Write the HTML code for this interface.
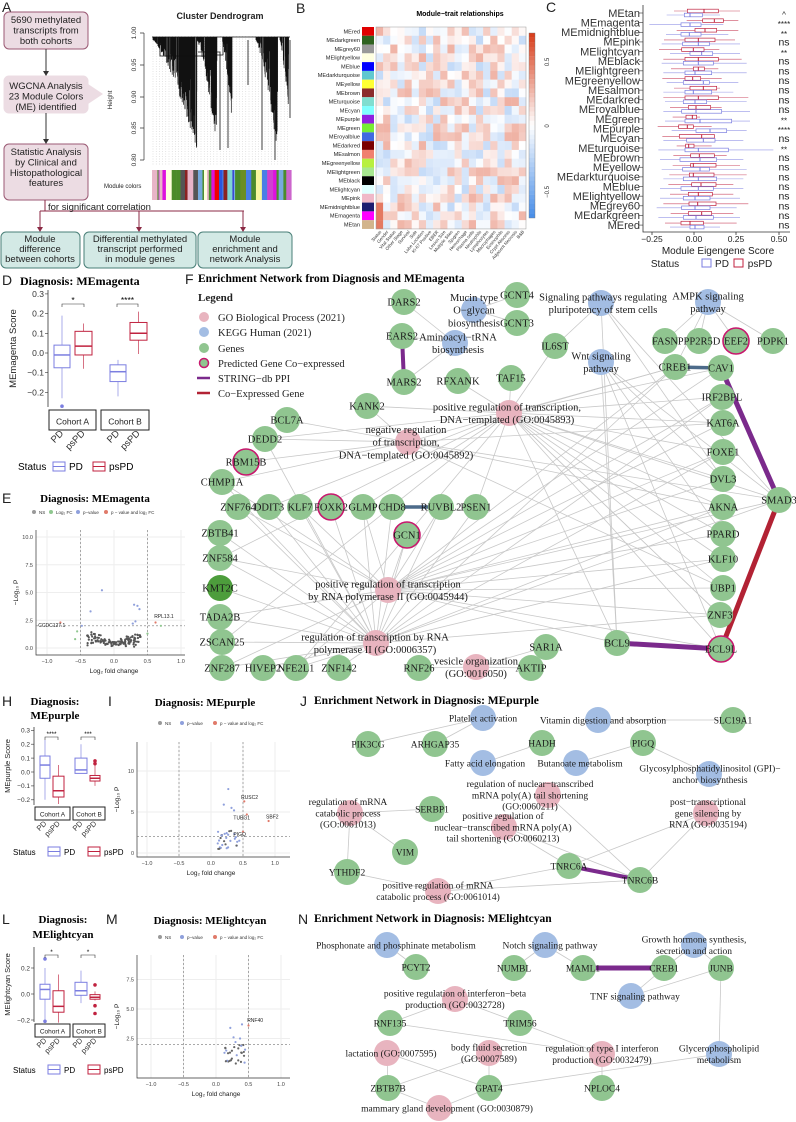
<!DOCTYPE html>
<html><head><meta charset="utf-8">
<style>
html,body{margin:0;padding:0;background:#fff;}
svg{display:block;}
.sans{font-family:"Liberation Sans",sans-serif;}
.serif{font-family:"Liberation Serif",serif;}
</style></head>
<body>
<svg id="s" width="796" height="1122" viewBox="0 0 796 1122" xmlns="http://www.w3.org/2000/svg">
<rect width="796" height="1122" fill="#fff"/>
<g class="sans" font-size="14" fill="#222">
<text x="2" y="12">A</text><text x="296" y="13">B</text><text x="546" y="12">C</text>
<text x="2" y="285">D</text><text x="185" y="284">F</text><text x="2" y="503">E</text>
<text x="2" y="706">H</text><text x="108" y="706">I</text><text x="300" y="706">J</text>
<text x="2" y="924">L</text><text x="106" y="924">M</text><text x="298" y="924">N</text>
</g>
<g class="sans" font-size="9.5" fill="#222" text-anchor="middle">
<rect x="4" y="12" width="84" height="37" rx="5" fill="#ecdce3" stroke="#9b5a74"/>
<text x="46" y="23">5690 methylated</text><text x="46" y="33.5">transcripts from</text><text x="46" y="44">both cohorts</text>
<rect x="4" y="76" width="84" height="37" rx="5" fill="#ecdce3" stroke="#ecdce3"/>
<polygon points="88,84 103,94 88,104" fill="#ecdce3"/>
<text x="46" y="89">WGCNA Analysis</text><text x="46" y="99.5">23 Module Colors</text><text x="46" y="110">(ME) identified</text>
<rect x="4" y="144" width="84" height="56" rx="5" fill="#ecdce3" stroke="#9b5a74"/>
<text x="46" y="155">Statistic Analysis</text><text x="46" y="165.5">by Clinical and</text><text x="46" y="176">Histopathological</text><text x="46" y="186">features</text>
<line x1="46" y1="49" x2="46" y2="73" stroke="#333"/><polygon points="43,71 49,71 46,76" fill="#333"/>
<line x1="46" y1="113" x2="46" y2="141" stroke="#333"/><polygon points="43,139 49,139 46,144" fill="#333"/>
<path d="M45 200 V211 M40 211 H244 M40 211 V228 M139 211 V228 M243 211 V228" stroke="#8b2a45" fill="none"/>
<polygon points="37,227 43,227 40,232" fill="#8b2a45"/><polygon points="136,227 142,227 139,232" fill="#8b2a45"/><polygon points="240,227 246,227 243,232" fill="#8b2a45"/>
<text x="48" y="210" text-anchor="start">for significant correlation</text>
<rect x="1" y="232" width="79" height="36" rx="5" fill="#d3e9e5" stroke="#4a7f78"/>
<rect x="84" y="232" width="112" height="36" rx="5" fill="#d3e9e5" stroke="#4a7f78"/>
<rect x="198" y="232" width="94" height="36" rx="5" fill="#d3e9e5" stroke="#4a7f78"/>
<text x="40" y="242">Module</text><text x="40" y="252">difference</text><text x="40" y="262">between cohorts</text>
<text x="140" y="242">Differential methylated</text><text x="140" y="252">transcript performed</text><text x="140" y="262">in module genes</text>
<text x="245" y="242">Module</text><text x="245" y="252">enrichment and</text><text x="245" y="262">network Analysis</text>
<text x="220" y="19" font-weight="bold" font-size="9">Cluster Dendrogram</text>
<text x="104" y="188" font-size="6" text-anchor="start" fill="#222">Module colors</text>
</g>
<g class="sans" font-size="6.5" fill="#333">
<text transform="translate(112,100) rotate(-90)" text-anchor="middle">Height</text>
<text transform="translate(136,33) rotate(-90)" text-anchor="middle">1.00</text>
<text transform="translate(136,65) rotate(-90)" text-anchor="middle">0.95</text>
<text transform="translate(136,97) rotate(-90)" text-anchor="middle">0.90</text>
<text transform="translate(136,128) rotate(-90)" text-anchor="middle">0.85</text>
<text transform="translate(136,160) rotate(-90)" text-anchor="middle">0.80</text>
</g>
<path d="M144 33 V160 M140 33 H144 M140 65 H144 M140 97 H144 M140 128 H144 M140 160 H144" stroke="#333" stroke-width="0.7"/>
<g id="dendro"></g>
<g id="strip"></g>
<text x="460" y="16" class="sans" font-size="7" font-weight="bold" text-anchor="middle">Module−trait relationships</text>
<g id="heat"></g>
<g class="sans" font-size="6" fill="#333">
<text transform="translate(549,62) rotate(-90)" text-anchor="middle">0.5</text>
<text transform="translate(549,126) rotate(-90)" text-anchor="middle">0</text>
<text transform="translate(549,192) rotate(-90)" text-anchor="middle">−0.5</text>
</g>
<g id="cbox"></g>
<g class="sans" font-size="8.5" fill="#222" text-anchor="middle">
<text x="652" y="242">−0.25</text><text x="694" y="242">0.00</text><text x="736" y="242">0.25</text><text x="779" y="242">0.50</text>
<text x="718" y="254" font-size="10">Module Eigengene Score</text>
<text x="665" y="267" font-size="10">Status</text>
<rect x="702" y="259" width="9" height="8" fill="none" stroke="#7b7ee0"/><text x="722" y="267" font-size="10">PD</text>
<rect x="734" y="259" width="9" height="8" fill="none" stroke="#c0223f"/><text x="760" y="267" font-size="10">psPD</text>
</g>
<text x="20" y="285" class="serif" font-size="12" font-weight="bold">Diagnosis: MEmagenta</text>
<g id="dbox"></g>
<text x="95" y="502" class="serif" font-size="11" font-weight="bold" text-anchor="middle">Diagnosis: MEmagenta</text>
<g id="evol"></g>
<text x="198" y="282" class="serif" font-size="11.5" font-weight="bold">Enrichment Network from Diagnosis and MEmagenta</text>
<g id="fnet"></g>
<g class="serif" font-size="10.5" fill="#222">
<text x="198" y="301" font-weight="bold" font-size="11">Legend</text>
<circle cx="204" cy="317" r="5" fill="#e8b4bf"/><text x="218" y="321">GO Biological Process (2021)</text>
<circle cx="204" cy="332" r="5" fill="#a3bde3"/><text x="218" y="336">KEGG Human (2021)</text>
<circle cx="204" cy="348" r="5" fill="#90c590"/><text x="218" y="352">Genes</text>
<circle cx="204" cy="363" r="4.5" fill="#90c590" stroke="#c8186e" stroke-width="1.5"/><text x="218" y="367">Predicted Gene Co−expressed</text>
<line x1="197" y1="378" x2="210" y2="378" stroke="#7b2a8c" stroke-width="2.5"/><text x="218" y="382">STRING−db PPI</text>
<line x1="197" y1="393" x2="210" y2="393" stroke="#b22234" stroke-width="2.5"/><text x="218" y="397">Co−Expressed Gene</text>
</g>
<text x="55" y="705" class="serif" font-size="11" font-weight="bold" text-anchor="middle">Diagnosis:</text>
<text x="55" y="719" class="serif" font-size="11" font-weight="bold" text-anchor="middle">MEpurple</text>
<g id="hbox"></g>
<text x="205" y="706" class="serif" font-size="11" font-weight="bold" text-anchor="middle">Diagnosis: MEpurple</text>
<g id="ivol"></g>
<text x="314" y="704" class="serif" font-size="11.5" font-weight="bold">Enrichment Network in Diagnosis: MEpurple</text>
<g id="jnet"></g>
<text x="63" y="923" class="serif" font-size="11" font-weight="bold" text-anchor="middle">Diagnosis:</text>
<text x="63" y="938" class="serif" font-size="11" font-weight="bold" text-anchor="middle">MElightcyan</text>
<g id="lbox"></g>
<text x="210" y="924" class="serif" font-size="11" font-weight="bold" text-anchor="middle">Diagnosis: MElightcyan</text>
<g id="mvol"></g>
<text x="314" y="922" class="serif" font-size="11.5" font-weight="bold">Enrichment Network in Diagnosis: MElightcyan</text>
<g id="nnet"></g>
</svg>
<script>
var NS="http://www.w3.org/2000/svg";
function el(p,t,a,tx){var e=document.createElementNS(NS,t);for(var k in a)e.setAttribute(k,a[k]);if(tx!==undefined)e.textContent=tx;document.getElementById(p).appendChild(e);return e;}
var seed=7;function rnd(){seed=(seed*16807)%2147483647;return (seed-1)/2147483646;}
for(var x=153;x<290;x+=3.2){el('dendro','line',{x1:x,y1:36,x2:x,y2:165,stroke:'#bbb','stroke-width':0.4,'stroke-dasharray':'1,1.5'});}
var cls=[[153,197,150],[197,217,148],[222,232,120],[256,278,158],[280,289,118]];
var dp="";cls.forEach(function(c){var n=Math.round((c[1]-c[0])*5);for(var i=0;i<n;i++){var f=rnd();var x=c[0]+f*(c[1]-c[0]);var lim=40+(c[2]-40)*Math.pow(f,1.3);var b=40+(lim-40)*Math.pow(rnd(),0.5);dp+="M"+x.toFixed(1)+" 37V"+b.toFixed(1);}});
el('dendro','path',{d:dp,stroke:'#111','stroke-width':0.7,fill:'none'});
el('dendro','path',{d:"M152 37H290M160 38V56H205M198 52H220V150M223 40V55H215M262 40V150M275 42V160M290 40V118M248 40V85M228 60V148",stroke:'#111','stroke-width':0.8,fill:'none'});
var mc=['#dd11dd','#e00','#2a55e0','#4a7ee6','#7fd4d4','#f8f8a0','#9be0d0','#2c2cd0','#d040d0','#cc66cc','#4b8b2a','#2d6a10','#7a9c4a','#8b2222','#e8b4c8','#999','#555','#7ad','#ffffe0','#6b8e23'];
var sx=152;while(sx<290){var w=1+rnd()*5;el('strip','rect',{x:sx,y:170,width:w+0.3,height:30,fill:mc[Math.floor(rnd()*mc.length)]});sx+=w;}
var mods=[['MEred','#e00000'],['MEdarkgreen','#2f6320'],['MEgrey60','#999'],['MElightyellow','#ffffe0'],['MEblue','#0000ff'],['MEdarkturquoise','#60c8d0'],['MEyellow','#ffff33'],['MEbrown','#8b2c2c'],['MEturquoise','#80ded0'],['MEcyan','#80ffff'],['MEpurple','#9020e0'],['MEgreen','#77ee33'],['MEroyalblue','#4169e1'],['MEdarkred','#7a0000'],['MEsalmon','#f08070'],['MEgreenyellow','#b8f040'],['MElightgreen','#a8e890'],['MEblack','#000'],['MElightcyan','#e0ffff'],['MEpink','#f0b8c8'],['MEmidnightblue','#1c1c70'],['MEmagenta','#ff00ff'],['MEtan','#d2b48c']];
var rh=8.78,nc=21,cw=150/nc;
function hc(v){v=Math.max(-1,Math.min(1,v));if(v>=0){var r=255-(255-216)*v,g=255-(255-64)*v,b=255-(255-30)*v;}else{v=-v;var r=255-(255-74)*v,g=255-(255-143)*v,b=255-(255-232)*v;}return 'rgb('+Math.round(r)+','+Math.round(g)+','+Math.round(b)+')';}
for(var i=0;i<23;i++){var y=27+i*rh;
el('heat','rect',{x:362,y:y,width:12,height:rh,fill:mods[i][1]});
el('heat','text',{x:360,y:y+6.3,'font-size':5.6,'text-anchor':'end','font-family':'Liberation Sans, sans-serif',fill:'#222'},mods[i][0]);
for(var j=0;j<nc;j++){var v=(rnd()-0.45)*0.75;if(i>=20&&j<1)v=0.7;el('heat','rect',{x:376+j*cw,y:y,width:cw+0.2,height:rh+0.2,fill:hc(v)});}}
el('heat','rect',{x:376,y:27,width:150,height:23*rh,fill:'none',stroke:'#999','stroke-width':0.5});
for(var k=0;k<40;k++){var v=1-k/39*2;el('heat','rect',{x:529,y:33+k*4.62,width:6,height:4.8,fill:hc(v)});}
el('heat','rect',{x:529,y:33,width:6,height:185,fill:'none',stroke:'#777','stroke-width':0.4});
var cl=['Status','Gender','Vital Status','Other Stage','Survival','Side','Lobe Location','Ki-67 Positive','EBER','Lesion Size','Multiple Sites','Sjogren','Hemorrhage','Plasma cells','Neutrophils','Lymphocytes','Macrophages','Eosinophils','Crypt Abscess','Adjacent Necrosis','B&B'];
for(var j=0;j<nc;j++){var x=376+j*cw+cw/2+2;el('heat','text',{transform:'translate('+x+',232) rotate(-50)','font-size':4.5,'text-anchor':'end','font-family':'Liberation Sans, sans-serif',fill:'#333'},cl[j]);}
var cn=['MEtan','MEmagenta','MEmidnightblue','MEpink','MElightcyan','MEblack','MElightgreen','MEgreenyellow','MEsalmon','MEdarkred','MEroyalblue','MEgreen','MEpurple','MEcyan','MEturquoise','MEbrown','MEyellow','MEdarkturquoise','MEblue','MElightyellow','MEgrey60','MEdarkgreen','MEred'];
var cd=[[862,955,912,822,1020,853,907,870,800,960],[908,970,943,860,1015,843,903,870,748,970],[885,950,915,830,1015,843,903,868,798,985],[855,945,895,792,1005,848,928,895,785,1020],[845,912,880,777,958,870,938,905,810,1020],[855,955,895,790,1025,850,940,895,785,1040],[880,913,895,813,955,855,935,885,790,1040],[855,902,878,787,965,850,928,910,800,1015],[870,950,910,822,960,855,935,880,790,1000],[855,955,895,790,1045,850,920,885,795,1040],[865,932,888,810,965,845,965,888,790,1050],[858,890,877,818,900,855,995,900,795,1050],[836,880,862,773,935,888,980,930,815,1040],[838,943,905,787,940,860,945,910,790,1030],[857,882,866,830,935,855,985,895,775,1120],[872,943,898,820,980,840,950,900,780,1030],[872,948,880,818,1020,848,928,900,785,1040],[868,942,880,808,1040,850,950,895,790,1030],[875,948,903,805,1000,843,940,895,780,1030],[865,937,895,810,1000,850,930,885,780,1020],[867,948,893,790,1045,845,930,885,770,1010],[865,935,905,812,1000,850,940,888,775,1020],[843,910,870,795,1010,870,912,885,810,960]];
var sig=['^','****','**','ns','**','ns','ns','ns','ns','ns','ns','**','****','ns','**','ns','ns','ns','ns','ns','ns','ns','ns'];
function zx(v){return 400+v/3;}
el('cbox','path',{d:'M643 5V232H790M652 232v3M694 232v3M736 232v3M779 232v3',stroke:'#333','stroke-width':0.8,fill:'none'});
for(var i=0;i<23;i++){var y=13+i*9.64,d=cd[i];
el('cbox','text',{x:640,y:y+3.8,'font-size':11,'text-anchor':'end','font-family':'Liberation Sans, sans-serif',fill:'#333'},cn[i]);
el('cbox','line',{x1:639,y1:y,x2:643,y2:y,stroke:'#333','stroke-width':0.6});
[[0,-2,'#c0223f'],[5,2,'#7b7ee0']].forEach(function(q){var o=q[0],yy=y+q[1],c=q[2];
el('cbox','line',{x1:zx(d[o+3]),y1:yy,x2:zx(d[o+4]),y2:yy,stroke:c,'stroke-width':0.6,opacity:0.8});
el('cbox','rect',{x:zx(d[o]),y:yy-1.8,width:(d[o+1]-d[o])/3,height:3.6,fill:'#fff',stroke:c,'stroke-width':0.7});
el('cbox','line',{x1:zx(d[o+2]),y1:yy-1.8,x2:zx(d[o+2]),y2:yy+1.8,stroke:c,'stroke-width':1});});
el('cbox','text',{x:784,y:y+(sig[i]=='ns'?3.5:4.5),'font-size':sig[i]=='ns'?10.5:8,'text-anchor':'middle','font-family':'Liberation Sans, sans-serif',fill:'#222'},sig[i]);}
function boxpanel(g,o){var ys=function(v){return o.y0-v*o.k;};
el(g,'path',{d:'M'+o.ax+' '+o.top+'V'+o.bot,stroke:'#333','stroke-width':0.8});
o.ticks.forEach(function(t){el(g,'line',{x1:o.ax-3,y1:ys(t[0]),x2:o.ax,y2:ys(t[0]),stroke:'#333','stroke-width':0.6});el(g,'text',{x:o.ax-4,y:ys(t[0])+o.fs*0.35,'font-size':o.fs,'text-anchor':'end','font-family':'Liberation Sans, sans-serif',fill:'#333'},t[1]);});
el(g,'text',{transform:'translate('+o.lx+','+((o.top+o.bot)/2)+') rotate(-90)','font-size':o.fs+1,'text-anchor':'middle','font-family':'Liberation Sans, sans-serif',fill:'#222'},o.ylab);
o.boxes.forEach(function(b){var c=b[7]?'#c0223f':'#7b7ee0';var cx=(b[0]+b[1])/2;
el(g,'line',{x1:cx,y1:ys(b[5]),x2:cx,y2:ys(b[6]),stroke:c,'stroke-width':0.8,opacity:0.8});
el(g,'rect',{x:b[0],y:ys(b[3]),width:b[1]-b[0],height:ys(b[2])-ys(b[3]),fill:'#fff',stroke:c,'stroke-width':1});
el(g,'line',{x1:b[0],y1:ys(b[4]),x2:b[1],y2:ys(b[4]),stroke:c,'stroke-width':1.5});
(b[8]||[]).forEach(function(p){el(g,'circle',{cx:cx,cy:ys(p),r:1.8,fill:c});});});
o.strips.forEach(function(s){el(g,'rect',{x:s[0],y:o.sy,width:s[1]-s[0],height:o.sh,fill:'#fff',stroke:'#222','stroke-width':1});el(g,'text',{x:(s[0]+s[1])/2,y:o.sy+o.sh*0.72,'font-size':o.fs,'text-anchor':'middle','font-family':'Liberation Sans, sans-serif',fill:'#222'},s[2]);});
o.br.forEach(function(b){el(g,'path',{d:'M'+b[0]+' '+(o.by+3)+'V'+o.by+'H'+b[1]+'V'+(o.by+3),stroke:'#333','stroke-width':0.6,fill:'none'});el(g,'text',{x:(b[0]+b[1])/2,y:o.by-1,'font-size':o.fs,'text-anchor':'middle','font-family':'Liberation Sans, sans-serif'},b[2]);});
o.boxes.forEach(function(b,i){var cx=(b[0]+b[1])/2+2;el(g,'text',{transform:'translate('+cx+','+(o.sy+o.sh+4)+') rotate(-45)','font-size':o.fs+1,'text-anchor':'end','font-family':'Liberation Sans, sans-serif',fill:'#333'},b[7]?'psPD':'PD');});
var ly=o.ly;el(g,'text',{x:o.lgx,y:ly,'font-size':o.fs+1.5,'font-family':'Liberation Sans, sans-serif'},'Status');
el(g,'rect',{x:o.lgx+35,y:ly-8,width:12,height:9,fill:'none',stroke:'#7b7ee0'});el(g,'line',{x1:o.lgx+35,y1:ly-3.5,x2:o.lgx+47,y2:ly-3.5,stroke:'#7b7ee0'});
el(g,'text',{x:o.lgx+51,y:ly,'font-size':o.fs+1.5,'font-family':'Liberation Sans, sans-serif'},'PD');
el(g,'rect',{x:o.lgx+75,y:ly-8,width:12,height:9,fill:'none',stroke:'#c0223f'});el(g,'line',{x1:o.lgx+75,y1:ly-3.5,x2:o.lgx+87,y2:ly-3.5,stroke:'#c0223f'});
el(g,'text',{x:o.lgx+91,y:ly,'font-size':o.fs+1.5,'font-family':'Liberation Sans, sans-serif'},'psPD');}
boxpanel('dbox',{ax:48,top:290,bot:407,y0:353,k:197,fs:8.5,lx:16,ylab:'MEmagenta Score',ticks:[[0.3,'0.3'],[0.2,'0.2'],[0.1,'0.1'],[0,'0.0'],[-0.1,'−0.1'],[-0.2,'−0.2']],
boxes:[[54,70,-0.075,0.04,-0.01,-0.23,0.19,0,[-0.27]],[75,92,-0.01,0.11,0.035,-0.08,0.15,1],[110,126,-0.145,-0.06,-0.095,-0.22,-0.035,0],[130,147,0.065,0.155,0.1,-0.005,0.21,1]],
strips:[[49,96,'Cohort A'],[101,149,'Cohort B']],sy:410,sh:20,br:[[62,84,'*'],[117,138,'****']],by:304,ly:470,lgx:18});
boxpanel('hbox',{ax:34,top:727,bot:805,y0:772,k:139,fs:6.5,lx:10,ylab:'MEpurple Score',ticks:[[0.3,'0.3'],[0.2,'0.2'],[0.1,'0.1'],[0,'0.0'],[-0.1,'−0.1'],[-0.2,'−0.2']],
boxes:[[40,50,-0.045,0.115,0.05,-0.2,0.23,0],[53,64,-0.18,-0.03,-0.135,-0.23,0.05,1],[75,87,-0.01,0.1,0.015,-0.01,0.2,0],[90,100,-0.065,-0.025,-0.045,-0.1,0.05,1,[0.08,0.06]]],
strips:[[35,70,'Cohort A'],[73,105,'Cohort B']],sy:807,sh:13,br:[[45,58,'****'],[81,95,'***']],by:737,ly:855,lgx:13});
boxpanel('lbox',{ax:34,top:947,bot:1022,y0:994,k:130,fs:6.5,lx:10,ylab:'MElightcyan Score',ticks:[[0.2,'0.2'],[0,'0.0'],[-0.2,'−0.2']],
boxes:[[40,50,-0.04,0.075,0.035,-0.2,0.2,0,[0.27,-0.21]],[53,64,-0.14,0.025,-0.095,-0.22,0.15,1],[75,87,-0.01,0.09,0.025,-0.07,0.18,0],[90,100,-0.04,-0.005,-0.025,-0.05,0.02,1,[0.07,-0.09,-0.15]]],
strips:[[35,70,'Cohort A'],[73,105,'Cohort B']],sy:1024,sh:13,br:[[45,58,'*'],[81,95,'*']],by:955,ly:1073,lgx:13});
function volc(g,o){var X=function(v){return o.x0+v*o.kx;},Y=function(v){return o.y0-v*o.ky;};
o.grid.forEach(function(t){el(g,'line',{x1:o.l,y1:Y(t[0]),x2:o.r,y2:Y(t[0]),stroke:'#eee','stroke-width':1});el(g,'text',{x:o.l-3,y:Y(t[0])+2,'font-size':5.5,'text-anchor':'end','font-family':'Liberation Sans, sans-serif',fill:'#444'},t[1]);});
[-1,-0.5,0,0.5,1].forEach(function(v){el(g,'line',{x1:X(v),y1:o.t,x2:X(v),y2:o.b,stroke:'#eee','stroke-width':1});el(g,'text',{x:X(v),y:o.b+8,'font-size':5.5,'text-anchor':'middle','font-family':'Liberation Sans, sans-serif',fill:'#444'},(v<0?'−':'')+Math.abs(v).toFixed(1));});
el(g,'path',{d:'M'+o.l+' '+o.t+'V'+o.b+'H'+o.r,stroke:'#333','stroke-width':0.7,fill:'none'});
[-0.5,0.5].forEach(function(v){el(g,'line',{x1:X(v),y1:o.t,x2:X(v),y2:o.b,stroke:'#777','stroke-width':0.6,'stroke-dasharray':'2,2'});});
el(g,'line',{x1:o.l,y1:Y(2),x2:o.r,y2:Y(2),stroke:'#777','stroke-width':0.6,'stroke-dasharray':'2,2'});
o.pts.forEach(function(p){el(g,'circle',{cx:X(p[0]),cy:Y(p[1]),r:1.1,fill:p[2]});});
o.lab.forEach(function(p){el(g,'text',{x:X(p[0]),y:Y(p[1]),'font-size':5,'font-family':'Liberation Sans, sans-serif',fill:'#222'},p[2]);});
el(g,'text',{x:X(0),y:o.b+18,'font-size':6.5,'text-anchor':'middle','font-family':'Liberation Sans, sans-serif',fill:'#222'},'Log₂ fold change');
el(g,'text',{transform:'translate('+(o.l-18)+','+((o.t+o.b)/2)+') rotate(-90)','font-size':6.5,'text-anchor':'middle','font-family':'Liberation Sans, sans-serif',fill:'#222'},'−Log₁₀ P');
var lx=o.lgx;o.leg.forEach(function(l){el(g,'circle',{cx:lx,cy:o.lgy-2,r:2,fill:l[1]});el(g,'text',{x:lx+5,y:o.lgy,'font-size':4.5,'font-family':'Liberation Sans, sans-serif',fill:'#333'},l[0]);lx+=l[2];});}
function gen(n,cx,sp){var a=[];for(var i=0;i<n;i++){var x=cx+(rnd()-0.5)*sp;var y=Math.abs(x)*3*rnd()+rnd()*0.6;a.push([x,y,'#555']);}return a;}
var ep=gen(120,0,0.8);ep=ep.concat([[-0.18,5.2,'#8fa0dc'],[-0.35,3.3,'#8fa0dc'],[0.3,3.9,'#8fa0dc'],[0.35,3.8,'#8fa0dc'],[0.38,3.5,'#8fa0dc'],[0.32,2.4,'#8fa0dc'],[0.28,2.2,'#8fa0dc'],[-0.48,2,'#8fa0dc'],[-0.8,2.3,'#e07a6a'],[0.62,2.3,'#e07a6a'],[0.7,2,'#8fc78f'],[-0.55,1.5,'#8fc78f'],[-0.58,0.8,'#8fc78f'],[0.5,1.3,'#8fc78f']]);
volc('evol',{x0:114,kx:67,y0:648,ky:11.1,l:36,r:185,t:530,b:655,grid:[[0,'0.0'],[2.5,'2.5'],[5,'5.0'],[7.5,'7.5'],[10,'10.0']],pts:ep,lab:[[-1.13,1.9,'CCDC127.1'],[0.6,2.7,'RPL13.1']],lgx:34,lgy:514,leg:[['NS','#999',17],['Log₂ FC','#8fc78f',27],['p−value','#8fa0dc',28],['p − value and log₂ FC','#e07a6a',50]]});
var ip=[];for(var i=0;i<30;i++){ip.push([0.1+rnd()*0.35,0.3+rnd()*2.5,rnd()<0.5?'#8fa0dc':'#666']);}
ip=ip.concat([[0.27,7.8,'#8fa0dc'],[0.2,5.9,'#8fa0dc'],[0.32,5.5,'#8fa0dc'],[0.36,5.2,'#8fa0dc'],[0.52,6.3,'#e07a6a'],[0.56,4.7,'#e07a6a'],[0.9,3.9,'#e07a6a'],[0.5,2.6,'#e07a6a']]);
volc('ivol',{x0:211,kx:64,y0:853,ky:8.2,l:137,r:290,t:742,b:857,grid:[[0,'0'],[5,'5'],[10,'10']],pts:ip,lab:[[0.47,6.6,'RUSC2'],[0.35,4.1,'TUBG1'],[0.86,4.2,'SBF2'],[0.35,2.1,'PIGQ']],lgx:160,lgy:725,leg:[['NS','#999',22],['p−value','#8fa0dc',33],['p − value and log₂ FC','#e07a6a',50]]});
var mp=[];for(var i=0;i<28;i++){mp.push([0.1+rnd()*0.35,0.3+rnd()*1.7,rnd()<0.3?'#8fa0dc':'#666']);}
mp=mp.concat([[0.22,3.4,'#8fa0dc'],[0.4,3.7,'#8fa0dc'],[0.27,2.6,'#8fa0dc'],[0.37,2.5,'#8fa0dc'],[0.5,3.6,'#e07a6a'],[0.3,2.2,'#8fa0dc']]);
volc('mvol',{x0:216,kx:65,y0:1068,ky:11.8,l:137,r:290,t:955,b:1078,grid:[[2.5,'2.5'],[5,'5.0'],[7.5,'7.5']],pts:mp,lab:[[0.48,3.9,'RNF40']],lgx:160,lgy:939,leg:[['NS','#999',22],['p−value','#8fa0dc',33],['p − value and log₂ FC','#e07a6a',50]]});
var COL={g:'#90c590',k:'#4d9d3c',b:'#a3bde3',p:'#e8b4bf'};
function net(g,nodes,edges,special,fs,r){var N={};nodes.forEach(function(n){N[n[0]]=n;});
edges.forEach(function(e){var a=N[e[0]],b=N[e[1]];if(a&&b)el(g,'line',{x1:a[2],y1:a[3],x2:b[2],y2:b[3],stroke:'#c8c8c8','stroke-width':0.8});});
special.forEach(function(e){var a=N[e[0]],b=N[e[1]];el(g,'line',{x1:a[2],y1:a[3],x2:b[2],y2:b[3],stroke:e[2],'stroke-width':e[3]});});
nodes.forEach(function(n){el(g,'circle',{cx:n[2],cy:n[3],r:r,fill:COL[n[1]],stroke:n[5]?'#c8186e':'none','stroke-width':1.6});});
nodes.forEach(function(n){var ls=n[4]||[n[0]];var lx=n[6]!==undefined?n[6]:n[2];var ly0=n[7]!==undefined?n[7]:n[3]-(ls.length-1)*fs*0.6;
ls.forEach(function(t,i){el(g,'text',{x:lx,y:ly0+i*fs*1.2+fs*0.35,'font-size':fs,'text-anchor':'middle','font-family':'Liberation Serif, serif',fill:'#1a1a1a'},t);});});}
var fn=[
['DARS2','g',404,302],['GCNT4','g',517,295],['GCNT3','g',517,323],['EARS2','g',402,336],['MARS2','g',404,382],['RFXANK','g',458,381],['TAF15','g',511,378],['IL6ST','g',555,346],
['FASN','g',665,341],['PPP2R5D','g',699,341],['EEF2','g',736,341,null,1],['PDPK1','g',773,341],['CREB1','g',675,367],['CAV1','g',721,368],['IRF2BPL','g',722,397],['KAT6A','g',723,423],['FOXE1','g',723,452],['DVL3','g',723,479],['AKNA','g',723,507],['PPARD','g',723,534],['KLF10','g',723,559],['UBP1','g',723,588],['ZNF3','g',720,615],['BCL9L','g',721,649,null,1],['BCL9','g',617,643],['SMAD3','g',779,500],
['KANK2','g',367,406],['BCL7A','g',287,420],['DEDD2','g',265,439],['RBM15B','g',246,462,null,1],['CHMP1A','g',222,482],['ZNF764','g',238,507],['DDIT3','g',269,507],['KLF7','g',300,507],['FOXK2','g',331,507,null,1],['GLMP','g',363,507],['CHD8','g',392,507],['RUVBL2','g',441,507],['PSEN1','g',476,507],['GCN1','g',407,535,null,1],
['ZBTB41','g',220,533],['ZNF584','g',220,558],['KMT2C','k',220,588],['TADA2B','g',220,617],['ZSCAN25','g',222,642],['ZNF287','g',222,668],['HIVEP2','g',263,668],['NFE2L1','g',296,668],['ZNF142','g',339,668],['RNF26','g',419,668],['SAR1A','g',546,647],['AKTIP','g',531,668],
['M','b',474,310,['Mucin type','O−glycan','biosynthesis']],['A','b',455,343,['Aminoacyl−tRNA','biosynthesis'],0,458],['S','b',601,303,['Signaling pathways regulating','pluripotency of stem cells'],0,603],['AM','b',708,302,['AMPK signaling','pathway']],['W','b',601,362,['Wnt signaling','pathway']],
['P1','p',509,413,['positive regulation of transcription,','DNA−templated (GO:0045893)'],0,507],['P2','p',408,442,['negative regulation','of transcription,','DNA−templated (GO:0045892)'],0,406],['P3','p',388,590,['positive regulation of transcription','by RNA polymerase II (GO:0045944)']],['P4','p',376,643,['regulation of transcription by RNA','polymerase II (GO:0006357)'],0,375],['V','p',476,667,['vesicle organization','(GO:0016050)']]];
var fe=[['M','GCNT4'],['M','GCNT3'],['A','DARS2'],['A','EARS2'],['A','MARS2'],['S','IL6ST'],['S','BCL9'],['S','DVL3'],['S','SMAD3'],['AM','FASN'],['AM','PPP2R5D'],['AM','EEF2'],['AM','PDPK1'],['AM','CREB1'],['W','DVL3'],['W','BCL9'],['W','BCL9L'],['W','SMAD3'],['W','PPARD'],['V','SAR1A'],['V','RNF26'],['V','AKTIP'],['IL6ST','P1'],['TAF15','P1'],['RFXANK','P1'],['KANK2','P1'],['KANK2','P2'],['BCL7A','P2'],['DEDD2','P2'],['RBM15B','P2'],['CHMP1A','P2'],['ZNF3','P1']];
['CREB1','CAV1','IRF2BPL','KAT6A','FOXE1','DVL3','AKNA','PPARD','KLF10','UBP1','ZNF3','BCL9L','SMAD3','BCL9'].forEach(function(n,i){fe.push([n,'P1']);fe.push([n,'P3']);if(i%2==0)fe.push([n,'P4']);if(i%3==0)fe.push([n,'P2']);});
['ZNF764','DDIT3','KLF7','FOXK2','GLMP','CHD8','RUVBL2','PSEN1','GCN1','ZBTB41','ZNF584','KMT2C','TADA2B','ZSCAN25','ZNF287','HIVEP2','NFE2L1','ZNF142','CHMP1A','DEDD2'].forEach(function(n,i){fe.push([n,'P4']);if(i%2==0)fe.push([n,'P3']);if(i%3==1)fe.push([n,'P1']);});
net('fnet',fn,fe,[['EARS2','MARS2','#7b2a8c',4],['CREB1','CAV1','#4d6b8a',3.5],['CHD8','RUVBL2','#4d6b8a',3.5],['CAV1','SMAD3','#7b2a8c',5],['SMAD3','BCL9L','#b22234',5],['BCL9','BCL9L','#7b2a8c',5]],10.5,13);
var jn=[['B1','b',483,718,['Platelet activation']],['B2','b',598,720,['Vitamin digestion and absorption'],0,603],['SLC19A1','g',733,720],['PIK3CG','g',368,744],['ARHGAP35','g',435,744],['HADH','g',542,743],['PIGQ','g',643,743],['B3','b',483,763,['Fatty acid elongation'],0,485],['B4','b',576,763,['Butanoate metabolism'],0,580],['B5','b',709,774,['Glycosylphosphatidylinositol (GPI)−','anchor biosynthesis'],0,710],
['P1','p',548,795,['regulation of nuclear−transcribed','mRNA poly(A) tail shortening','(GO:0060211)'],0,530],['P2','p',350,813,['regulation of mRNA','catabolic process','(GO:0061013)'],0,348],['SERBP1','g',432,809],['P3','p',504,827,['positive regulation of','nuclear−transcribed mRNA poly(A)','tail shortening (GO:0060213)'],0,503],['P4','p',706,813,['post−transcriptional','gene silencing by','RNA (GO:0035194)'],0,708],['VIM','g',405,852],['YTHDF2','g',347,872],['TNRC6A','g',569,866],['TNRC6B','g',640,880],['P5','p',438,891,['positive regulation of mRNA','catabolic process (GO:0061014)']]];
net('jnet',jn,[['B1','PIK3CG'],['B1','ARHGAP35'],['B2','SLC19A1'],['B3','HADH'],['B4','PIGQ'],['PIGQ','B5'],['P2','SERBP1'],['P2','VIM'],['P2','YTHDF2'],['P1','TNRC6B'],['P3','TNRC6A'],['P3','TNRC6B'],['P4','TNRC6A'],['P4','TNRC6B'],['P5','YTHDF2'],['P5','TNRC6A'],['P5','TNRC6B']],[['TNRC6A','TNRC6B','#7b2a8c',4]],9.5,13);
var nn=[['B1','b',387,945,['Phosphonate and phosphinate metabolism'],0,396],['PCYT2','g',416,967],['B2','b',545,945,['Notch signaling pathway'],0,550],['NUMBL','g',514,968],['MAML1','g',583,968],['CREB1','g',664,968],['B3','b',694,945,['Growth hormone synthesis,','secretion and action']],['JUNB','g',721,968],['B4','b',631,996,['TNF signaling pathway'],0,635],['P1','p',455,999,['positive regulation of interferon−beta','production (GO:0032728)']],['RNF135','g',390,1023],['TRIM56','g',520,1023],['P2','p',387,1053,['lactation (GO:0007595)'],0,391],['P3','p',489,1053,['body fluid secretion','(GO:0007589)']],['P4','p',602,1054,['regulation of type I interferon','production (GO:0032479)']],['B5','b',719,1054,['Glycerophospholipid','metabolism']],['ZBTB7B','g',388,1088],['GPAT4','g',489,1088],['NPLOC4','g',602,1088],['P5','p',439,1108,['mammary gland development (GO:0030879)'],0,447]];
net('nnet',nn,[['B1','PCYT2'],['B2','NUMBL'],['B2','MAML1'],['B3','CREB1'],['B3','JUNB'],['B4','CREB1'],['B4','JUNB'],['JUNB','B5'],['P1','RNF135'],['P1','TRIM56'],['RNF135','P4'],['TRIM56','P4'],['P2','ZBTB7B'],['P2','GPAT4'],['P3','ZBTB7B'],['P3','GPAT4'],['P4','NPLOC4'],['P5','ZBTB7B'],['P5','GPAT4'],['GPAT4','B5']],[['MAML1','CREB1','#7b2a8c',5]],9.5,13);
</script>
</body></html>
